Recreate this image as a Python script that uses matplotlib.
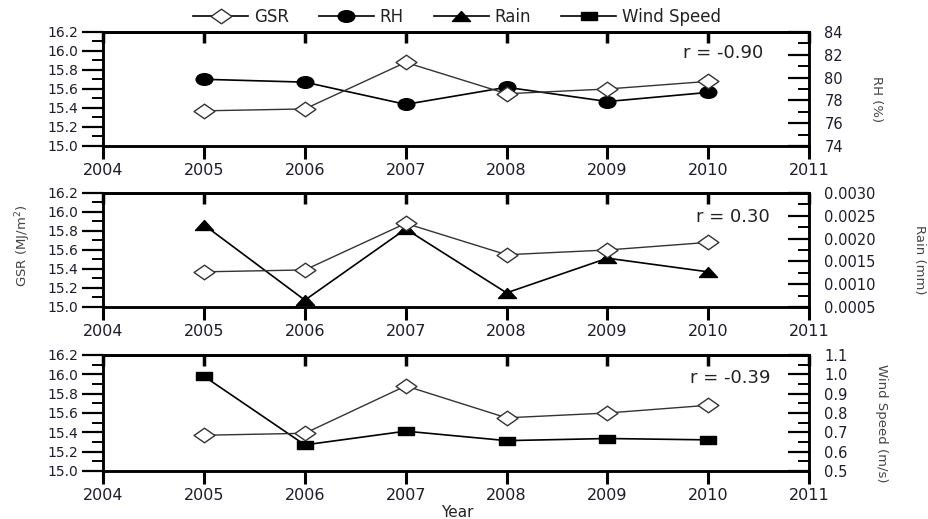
import matplotlib
matplotlib.use('Agg')
import matplotlib.pyplot as plt
from matplotlib.path import Path
from matplotlib.transforms import Affine2D
from matplotlib.ticker import MultipleLocator, FormatStrFormatter
from matplotlib.lines import Line2D

plt.rcParams['font.family'] = ['DejaVu Sans']

years = [2005, 2006, 2007, 2008, 2009, 2010]
gsr = [15.37, 15.39, 15.88, 15.55, 15.60, 15.68]
rh = [79.85, 79.6, 77.65, 79.15, 77.9, 78.7]
rain = [0.00230, 0.00065, 0.00221, 0.00081, 0.00157, 0.00127]
wind = [0.99, 0.635, 0.706, 0.657, 0.668, 0.661]
r_labels = ['r = -0.90', 'r = 0.30', 'r = -0.39']
right_labels = ['RH (%)', 'Rain (mm)', 'Wind Speed (m/s)']
legend_names = ['GSR', 'RH', 'Rain', 'Wind Speed']

# squashed markers (the original figure is stretched sideways)
diamond = Path([(-1, 0), (0, 0.7), (1, 0), (0, -0.7), (-1, 0)],
               [Path.MOVETO, Path.LINETO, Path.LINETO, Path.LINETO, Path.CLOSEPOLY])
ellipse = Path.unit_circle().transformed(Affine2D().scale(1, 0.7))
triangle = Path([(-1, -0.55), (1, -0.55), (0, 0.55), (-1, -0.55)],
                [Path.MOVETO, Path.LINETO, Path.LINETO, Path.CLOSEPOLY])
square = Path([(-1, -0.55), (1, -0.55), (1, 0.55), (-1, 0.55), (-1, -0.55)],
              [Path.MOVETO, Path.LINETO, Path.LINETO, Path.LINETO, Path.CLOSEPOLY])

tick_col = '#1c1c2c'
lab_col = '#444444'

fig = plt.figure(figsize=(9.29, 5.19), dpi=100)
boxes = [[0.111, 0.7187, 0.760, 0.2197],
         [0.111, 0.4085, 0.760, 0.2197],
         [0.111, 0.0925, 0.760, 0.2235]]

series = [rh, rain, wind]
markers = [ellipse, triangle, square]
msizes = [12, 13, 11]
rlims = [(74, 84), (0.0005, 0.0030), (0.5, 1.1)]
rmajor = [2, 0.0005, 0.1]
rfmt = ['%d', '%.4f', '%.1f']
rtext_pos = [(0.878, 0.816), (0.892, 0.79), (0.888, 0.80)]
rlabel_pos = [(0.944, 0.809), (0.990, 0.499), (0.949, 0.185)]

for i in range(3):
    ax = fig.add_axes(boxes[i])
    ax2 = ax.twinx()
    ax.set_zorder(ax2.get_zorder() + 1)
    ax.patch.set_visible(False)

    ax.plot(years, gsr, color='#333333', lw=1.0, marker=diamond, ms=15,
            mfc='white', mec='#333333', mew=1.0, zorder=3)
    ax2.plot(years, series[i], color='black', lw=1.2, marker=markers[i],
             ms=msizes[i], mfc='black', mec='black')

    ax.set_xlim(2004, 2011)
    ax.set_ylim(15.0, 16.2)
    ax.xaxis.set_major_locator(MultipleLocator(1))
    ax.yaxis.set_major_locator(MultipleLocator(0.2))
    ax.yaxis.set_minor_locator(MultipleLocator(0.1))
    ax.yaxis.set_major_formatter(FormatStrFormatter('%.1f'))
    ax.tick_params(axis='x', direction='out', length=9, width=2.2, labelsize=11.5,
                   labelcolor=tick_col, pad=3)
    ax.tick_params(axis='y', which='major', direction='out', length=15, width=1.6,
                   labelsize=10, labelcolor=tick_col, pad=3)
    ax.tick_params(axis='y', which='minor', direction='out', length=8, width=1.4)
    top = ax.secondary_xaxis('top')
    top.xaxis.set_major_locator(MultipleLocator(1))
    top.tick_params(direction='in', length=8, width=2.5, labeltop=False)
    top.spines['top'].set_linewidth(1.8)

    ax2.set_ylim(*rlims[i])
    ax2.yaxis.set_major_locator(MultipleLocator(rmajor[i]))
    ax2.yaxis.set_minor_locator(MultipleLocator(rmajor[i] / 2))
    ax2.yaxis.set_major_formatter(FormatStrFormatter(rfmt[i]))
    ax2.tick_params(axis='y', which='major', direction='in', length=15, width=1.6,
                    labelsize=10.5, labelcolor=tick_col, pad=11)
    ax2.tick_params(axis='y', which='minor', direction='in', length=8, width=1.4)

    for a in (ax, ax2):
        for s in a.spines.values():
            s.set_linewidth(1.8)

    ax.text(rtext_pos[i][0], rtext_pos[i][1], r_labels[i], transform=ax.transAxes,
            ha='center', va='center', fontsize=13, color='#222222')
    fig.text(rlabel_pos[i][0], rlabel_pos[i][1], right_labels[i], rotation=270,
             ha='center', va='center', fontsize=9.5, color=lab_col)

fig.text(0.025, 0.526, 'GSR (MJ/m$^2$)', rotation=90, ha='center', va='center',
         fontsize=9.5, color=lab_col)
fig.text(0.492, 0.012, 'Year', ha='center', va='center', fontsize=11, color='#222222')

handles = [
    Line2D([], [], color='black', lw=1.2, marker=diamond, ms=15, mfc='white', mec='#333333'),
    Line2D([], [], color='black', lw=1.2, marker=ellipse, ms=12, mfc='black'),
    Line2D([], [], color='black', lw=1.2, marker=triangle, ms=13, mfc='black'),
    Line2D([], [], color='black', lw=1.2, marker=square, ms=11, mfc='black'),
]
fig.legend(handles, legend_names, loc='center', bbox_to_anchor=(0.492, 0.967), ncol=4,
           frameon=False, fontsize=12, handlelength=3.3, columnspacing=1.8,
           handletextpad=0.35, labelcolor='#222222')

fig.savefig('out.png', dpi=100)
